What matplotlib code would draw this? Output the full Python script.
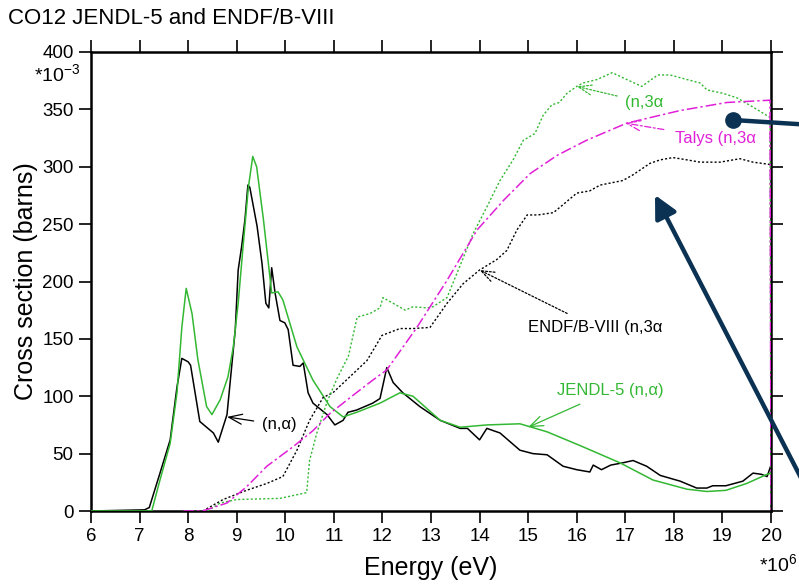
import matplotlib
matplotlib.use("Agg")
import matplotlib.pyplot as plt

plt.rcParams['font.family'] = ['Liberation Sans', 'DejaVu Sans']
plt.rcParams['mathtext.default'] = 'regular'

# ENDF/B-VIII (n,alpha) - black solid (energy in MeV, xs in mb)
endf_na_e = [6.0, 7.1, 7.2, 7.42, 7.63, 7.77, 7.87, 8.0, 8.05, 8.24, 8.38, 8.52, 8.62, 8.8, 8.97,
             9.03, 9.1, 9.17, 9.23, 9.27, 9.42, 9.52, 9.6, 9.66, 9.72, 9.79, 9.89, 9.99, 10.06,
             10.16, 10.3, 10.37, 10.47, 10.57, 10.86, 11.02, 11.19, 11.29, 11.47, 11.8, 11.95,
             12.09, 12.22, 12.42, 12.77, 13.19, 13.6, 13.75, 14.0, 14.15, 14.42, 14.83, 15.1,
             15.39, 15.72, 16.0, 16.27, 16.34, 16.51, 16.7, 16.95, 17.16, 17.44, 17.72, 18.13,
             18.47, 18.68, 18.8, 19.07, 19.42, 19.63, 19.8, 19.92, 20.0]
endf_na_xs = [0, 1, 3, 33, 62, 108, 133, 130, 127, 78, 73, 68, 60, 84, 158,
              210, 230, 254, 284, 282, 248, 216, 181, 177, 212, 190, 166, 164, 158,
              127, 126, 129, 103, 94, 84, 75, 79, 86, 88, 94, 98,
              125, 112, 103, 91, 79, 72, 72, 62, 72, 68, 53, 50,
              49, 39, 36, 34, 40, 36, 40, 42, 44, 39, 31, 26,
              20, 20, 22, 22, 26, 33, 32, 30, 40]

# JENDL-5 (n,alpha) - green solid
jendl_na_e = [6.0, 7.25, 7.42, 7.63, 7.77, 7.87, 7.96, 8.08, 8.2, 8.38, 8.49, 8.66, 8.82, 8.93,
              9.03, 9.13, 9.24, 9.33, 9.41, 9.55, 9.72, 9.85, 9.95, 10.24, 10.57, 10.92, 11.19,
              11.47, 11.95, 12.36, 12.63, 13.19, 13.6, 14.15, 14.83, 15.39, 16.07, 16.89, 17.57,
              18.27, 18.68, 19.07, 19.5, 19.92, 20.0]
jendl_na_xs = [0, 0, 27, 59, 103, 160, 194, 172, 132, 91, 84, 97, 117, 143,
               181, 230, 282, 309, 300, 254, 190, 191, 184, 143, 114, 91, 82,
               86, 94, 103, 100, 79, 73, 75, 76, 69, 57, 42, 27,
               19, 17, 18, 24, 32, 33]

# JENDL-5 (n,3alpha) - green dotted
jendl_n3a_e = [8.4, 8.66, 9.0, 9.89, 10.44, 10.5, 10.65, 10.86, 11.06, 11.3, 11.48, 11.74, 11.95,
               12.01, 12.22, 12.47, 12.63, 12.92, 13.04, 13.33, 13.6, 13.87, 14.15, 14.42, 14.69,
               14.9, 15.14, 15.31, 15.49, 15.64, 15.8, 16.0, 16.13, 16.42, 16.73, 17.03, 17.34,
               17.67, 17.92, 18.27, 18.54, 18.68, 19.01, 19.3, 19.63, 19.98, 20.0]
jendl_n3a_xs = [0, 7, 10, 11, 16, 44, 68, 95, 115, 135, 169, 172, 177,
                186, 181, 175, 178, 177, 178, 186, 214, 242, 265, 288, 306,
                323, 329, 345, 354, 356, 364, 370, 373, 376, 382, 376, 370,
                380, 380, 376, 373, 367, 364, 360, 352, 343, 0]

# ENDF/B-VIII (n,3alpha) - black dotted
endf_n3a_e = [8.3, 8.72, 9.2, 9.62, 9.95, 10.24, 10.5, 10.78, 10.98, 11.33, 11.68, 11.99,
              12.36, 12.63, 12.98, 13.33, 13.66, 14.0, 14.35, 14.56, 14.77, 14.98, 15.2, 15.52,
              15.72, 16.0, 16.27, 16.48, 16.95, 17.16, 17.51, 17.72, 17.98, 18.27, 18.54, 18.95,
              19.36, 19.63, 19.98]
endf_n3a_xs = [0, 10, 18, 24, 30, 53, 79, 99, 103, 117, 131, 153,
               159, 159, 160, 181, 198, 210, 219, 227, 245, 258, 258, 260,
               267, 277, 279, 284, 288, 293, 303, 306, 308, 306, 304, 304,
               307, 304, 302]

# Talys (n,3alpha) - magenta dash-dot
talys_e = [7.9, 8.3, 8.8, 9.2, 9.62, 10.16, 10.57, 10.92, 11.4, 11.8, 12.09, 12.71, 13.33,
           13.95, 14.5, 15.04, 15.6, 16.2, 17.03, 18.13, 19.09, 19.98, 20.0]
talys_xs = [0, 0, 7, 21, 39, 56, 70, 85, 101, 114, 123, 160, 201,
            245, 271, 294, 310, 323, 338, 349, 356, 358, 0]

x_ticks = list(range(6, 21))
y_ticks = list(range(0, 401, 50))

green = '#33b833'
magenta = '#e020d8'
navy = '#0b3252'

fig = plt.figure(figsize=(7.99, 5.85), dpi=100)
ax = fig.add_axes([91 / 799, 74 / 585, 680 / 799, 459 / 585])

ax.plot(endf_na_e, endf_na_xs, color='black', lw=1.1, zorder=3)
ax.plot(jendl_na_e, jendl_na_xs, color=green, lw=1.1, zorder=3)
ax.plot(endf_n3a_e, endf_n3a_xs, color='black', lw=1.0, ls=(0, (1.5, 1.5)), zorder=3)
ax.plot(jendl_n3a_e, jendl_n3a_xs, color=green, lw=1.0, ls=(0, (1.5, 1.5)), zorder=3)
ax.plot(talys_e, talys_xs, color=magenta, lw=1.1, ls=(0, (7, 2, 1.5, 2)), zorder=3)

ax.set_xlim(6, 20)
ax.set_ylim(0, 400)
ax.set_xticks(x_ticks)
ax.set_xticklabels([str(t) for t in x_ticks])
ax.set_yticks(y_ticks)
ax.set_yticklabels([str(t) for t in y_ticks])
ax.tick_params(axis='both', direction='out', labelsize=13.5, width=1.2, length=8.5,
               top=True, right=True)
ax.tick_params(axis='x', pad=4)
ax.tick_params(axis='y', pad=4)
for sp in ax.spines.values():
    sp.set_linewidth(1.8)

ax.set_xlabel('Energy (eV)', fontsize=18, labelpad=8)
ax.set_ylabel('Cross section (barns)', fontsize=18, labelpad=3)

fig.text(8 / 799, 1 - 18 / 585, 'CO12 JENDL-5 and ENDF/B-VIII', fontsize=16,
         ha='left', va='center')
fig.text(80 / 799, 1 - 74 / 585, '*10$^{-3}$', fontsize=14, ha='right', va='center')
fig.text(759 / 799, 1 - 564 / 585, '*10$^{6}$', fontsize=14, ha='left', va='center')

# curve labels with arrows
ax.annotate('(n,\u03b1)', xy=(8.8, 82), xytext=(9.52, 75), fontsize=12, color='black',
            va='center', ha='left',
            arrowprops=dict(arrowstyle='->,head_length=0.8,head_width=0.3', color='black',
                            lw=0.9, shrinkB=0, shrinkA=4))
ax.annotate('ENDF/B-VIII (n,3\u03b1', xy=(14.0, 210), xytext=(15.0, 160), fontsize=12,
            color='black', va='center', ha='left',
            arrowprops=dict(arrowstyle='->,head_length=0.8,head_width=0.3', color='black',
                            lw=0.9, ls=(0, (1.5, 1.5)), shrinkB=0, shrinkA=6))
ax.annotate('JENDL-5 (n,\u03b1)', xy=(15.0, 73), xytext=(15.6, 105), fontsize=12,
            color=green, va='center', ha='left',
            arrowprops=dict(arrowstyle='->,head_length=0.8,head_width=0.3', color=green,
                            lw=0.9, shrinkB=0, shrinkA=6))
ax.annotate('(n,3\u03b1', xy=(16.0, 370), xytext=(17.0, 356), fontsize=12,
            color=green, va='center', ha='left',
            arrowprops=dict(arrowstyle='->,head_length=0.8,head_width=0.3', color=green,
                            lw=0.9, ls=(0, (1.5, 1.5)), shrinkB=0, shrinkA=4))
ax.annotate('Talys (n,3\u03b1', xy=(17.0, 338), xytext=(18.02, 325), fontsize=12,
            color=magenta, va='center', ha='left',
            arrowprops=dict(arrowstyle='->,head_length=0.8,head_width=0.3', color=magenta,
                            lw=0.9, ls=(0, (5, 2, 1.5, 2)), shrinkB=0, shrinkA=6))

# dark overlay arrows drawn over the figure
fig.add_artist(plt.Line2D([733 / 799, 812 / 799], [1 - 120 / 585, 1 - 125 / 585],
                          color=navy, lw=3.2, transform=fig.transFigure))
fig.add_artist(plt.Line2D([733 / 799], [1 - 120 / 585], marker='o', markersize=11,
                          color=navy, transform=fig.transFigure))
ax.annotate('', xy=(655, 585 - 195), xycoords='figure pixels',
            xytext=(815, 585 - 505), textcoords='figure pixels',
            arrowprops=dict(arrowstyle='-|>,head_length=0.75,head_width=0.38', color=navy,
                            lw=3.2, mutation_scale=18, shrinkA=0, shrinkB=0),
            annotation_clip=False)

fig.savefig('out.png', dpi=100)
